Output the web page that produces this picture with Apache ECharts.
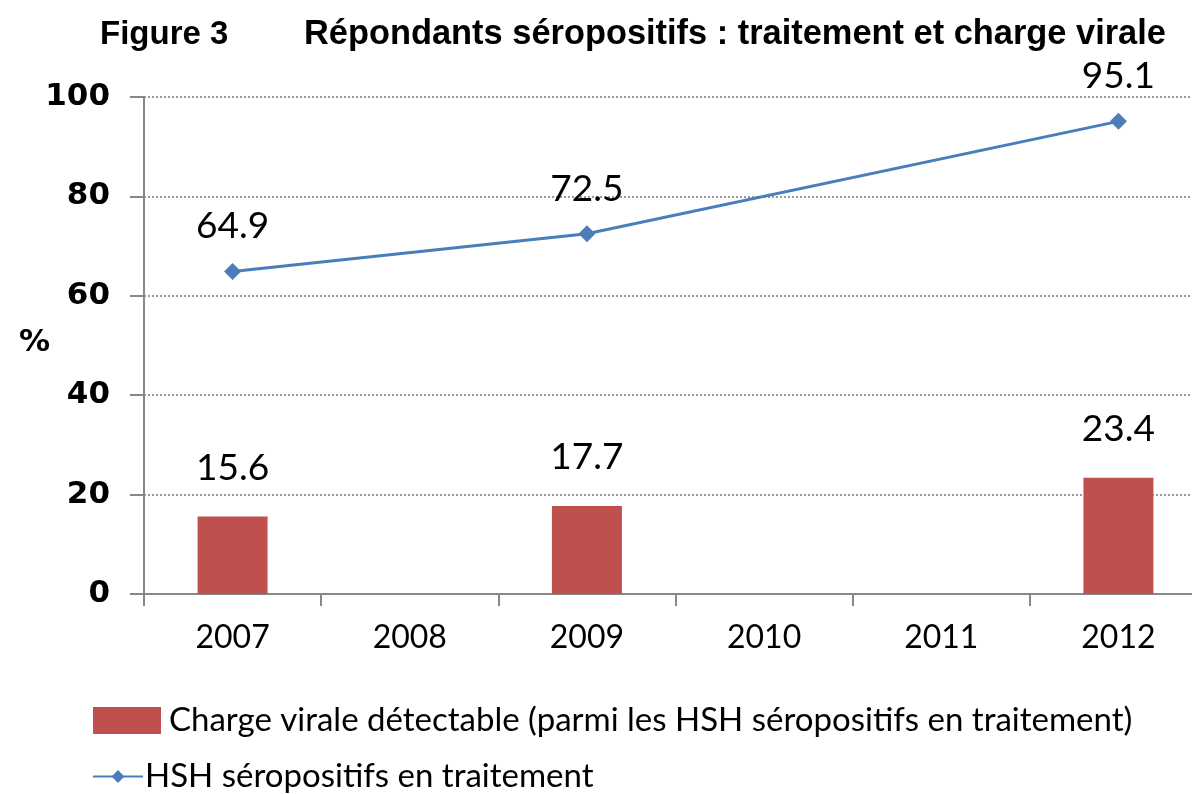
<!DOCTYPE html>
<html>
<head>
<meta charset="utf-8">
<script src="https://cdn.jsdelivr.net/npm/echarts@6/dist/echarts.min.js"></script>
<style>
  html, body { margin: 0; padding: 0; background: #fff; }
  #main { width: 1192px; height: 794px; }
</style>
</head>
<body>
<div id="main"></div>
<script>
// données
var years = ["2007", "2008", "2009", "2010", "2011", "2012"];
var chargeVirale = [15.6, null, 17.7, null, null, 23.4];
var enTraitement = [64.9, null, 72.5, null, null, 95.1];
var yTicks = [0, 20, 40, 60, 80, 100];

var labelFont = "Lato, 'Open Sans', sans-serif";

var myChart = echarts.init(document.getElementById("main"));
var option = {
  animation: false,
  backgroundColor: "#fff",
  title: [
    {
      text: "Figure 3",
      left: 95, top: 13,
      textStyle: { fontFamily: "'Liberation Sans', Arial", fontWeight: "bold", fontSize: 33, color: "#000" }
    },
    {
      text: "Répondants séropositifs : traitement et charge virale",
      left: 299, top: 13,
      textStyle: { fontFamily: "'Liberation Sans', Arial", fontWeight: "bold", fontSize: 34.4, color: "#000" }
    },
    {
      text: "%",
      left: 14, top: 322,
      textStyle: { fontFamily: "'DejaVu Sans'", fontWeight: "bold", fontSize: 31, color: "#000" }
    }
  ],
  grid: { left: 144, top: 97, width: 1063, height: 497, outerBoundsMode: "none", containLabel: false },
  legend: [
    {
      data: [{ name: "Charge virale détectable (parmi les HSH séropositifs en traitement)", icon: "rect" }],
      left: 88, top: 699,
      itemWidth: 68, itemHeight: 27, itemGap: 6,
      textStyle: { fontFamily: labelFont, fontSize: 33, color: "#000", padding: [0, 0, 0, 3] }
    },
    {
      data: ["HSH séropositifs en traitement"],
      left: 87, top: 755,
      itemWidth: 50, itemHeight: 16,
      textStyle: { fontFamily: labelFont, fontSize: 33, color: "#000", padding: [0, 0, 0, -3] }
    }
  ],
  xAxis: {
    type: "category",
    data: years,
    boundaryGap: true,
    axisLine: { lineStyle: { color: "#888", width: 2 } },
    axisTick: { show: true, length: 12, lineStyle: { color: "#888", width: 2 } },
    axisLabel: { margin: 28, fontFamily: labelFont, fontSize: 32, color: "#000" }
  },
  yAxis: {
    type: "value",
    min: 0, max: 100, interval: 20,
    axisLine: { show: true, lineStyle: { color: "#888", width: 2 } },
    axisTick: { show: true, length: 14, lineStyle: { color: "#888", width: 2 } },
    axisLabel: {
      margin: 34, fontFamily: "'DejaVu Sans'", fontWeight: "bold", fontSize: 31, color: "#000",
      formatter: function (v) { return yTicks.indexOf(v) >= 0 ? String(v) : ""; }
    },
    splitLine: { show: true, lineStyle: { color: "#999", type: "dotted", width: 2 } }
  },
  series: [
    {
      name: "Charge virale détectable (parmi les HSH séropositifs en traitement)",
      type: "bar",
      data: chargeVirale,
      barWidth: 70,
      itemStyle: { color: "#C0504D" },
      label: {
        show: true, position: "top", distance: 30,
        fontFamily: labelFont, fontSize: 37, color: "#000"
      }
    },
    {
      name: "HSH séropositifs en traitement",
      type: "line",
      data: enTraitement,
      connectNulls: true,
      symbol: "diamond",
      symbolSize: 17,
      lineStyle: { color: "#4A7EBB", width: 3 },
      itemStyle: { color: "#4A7EBB" },
      label: {
        show: true, position: "top", distance: 18,
        fontFamily: labelFont, fontSize: 37, color: "#000"
      }
    }
  ]
};
myChart.setOption(option, true);
</script>
</body>
</html>
